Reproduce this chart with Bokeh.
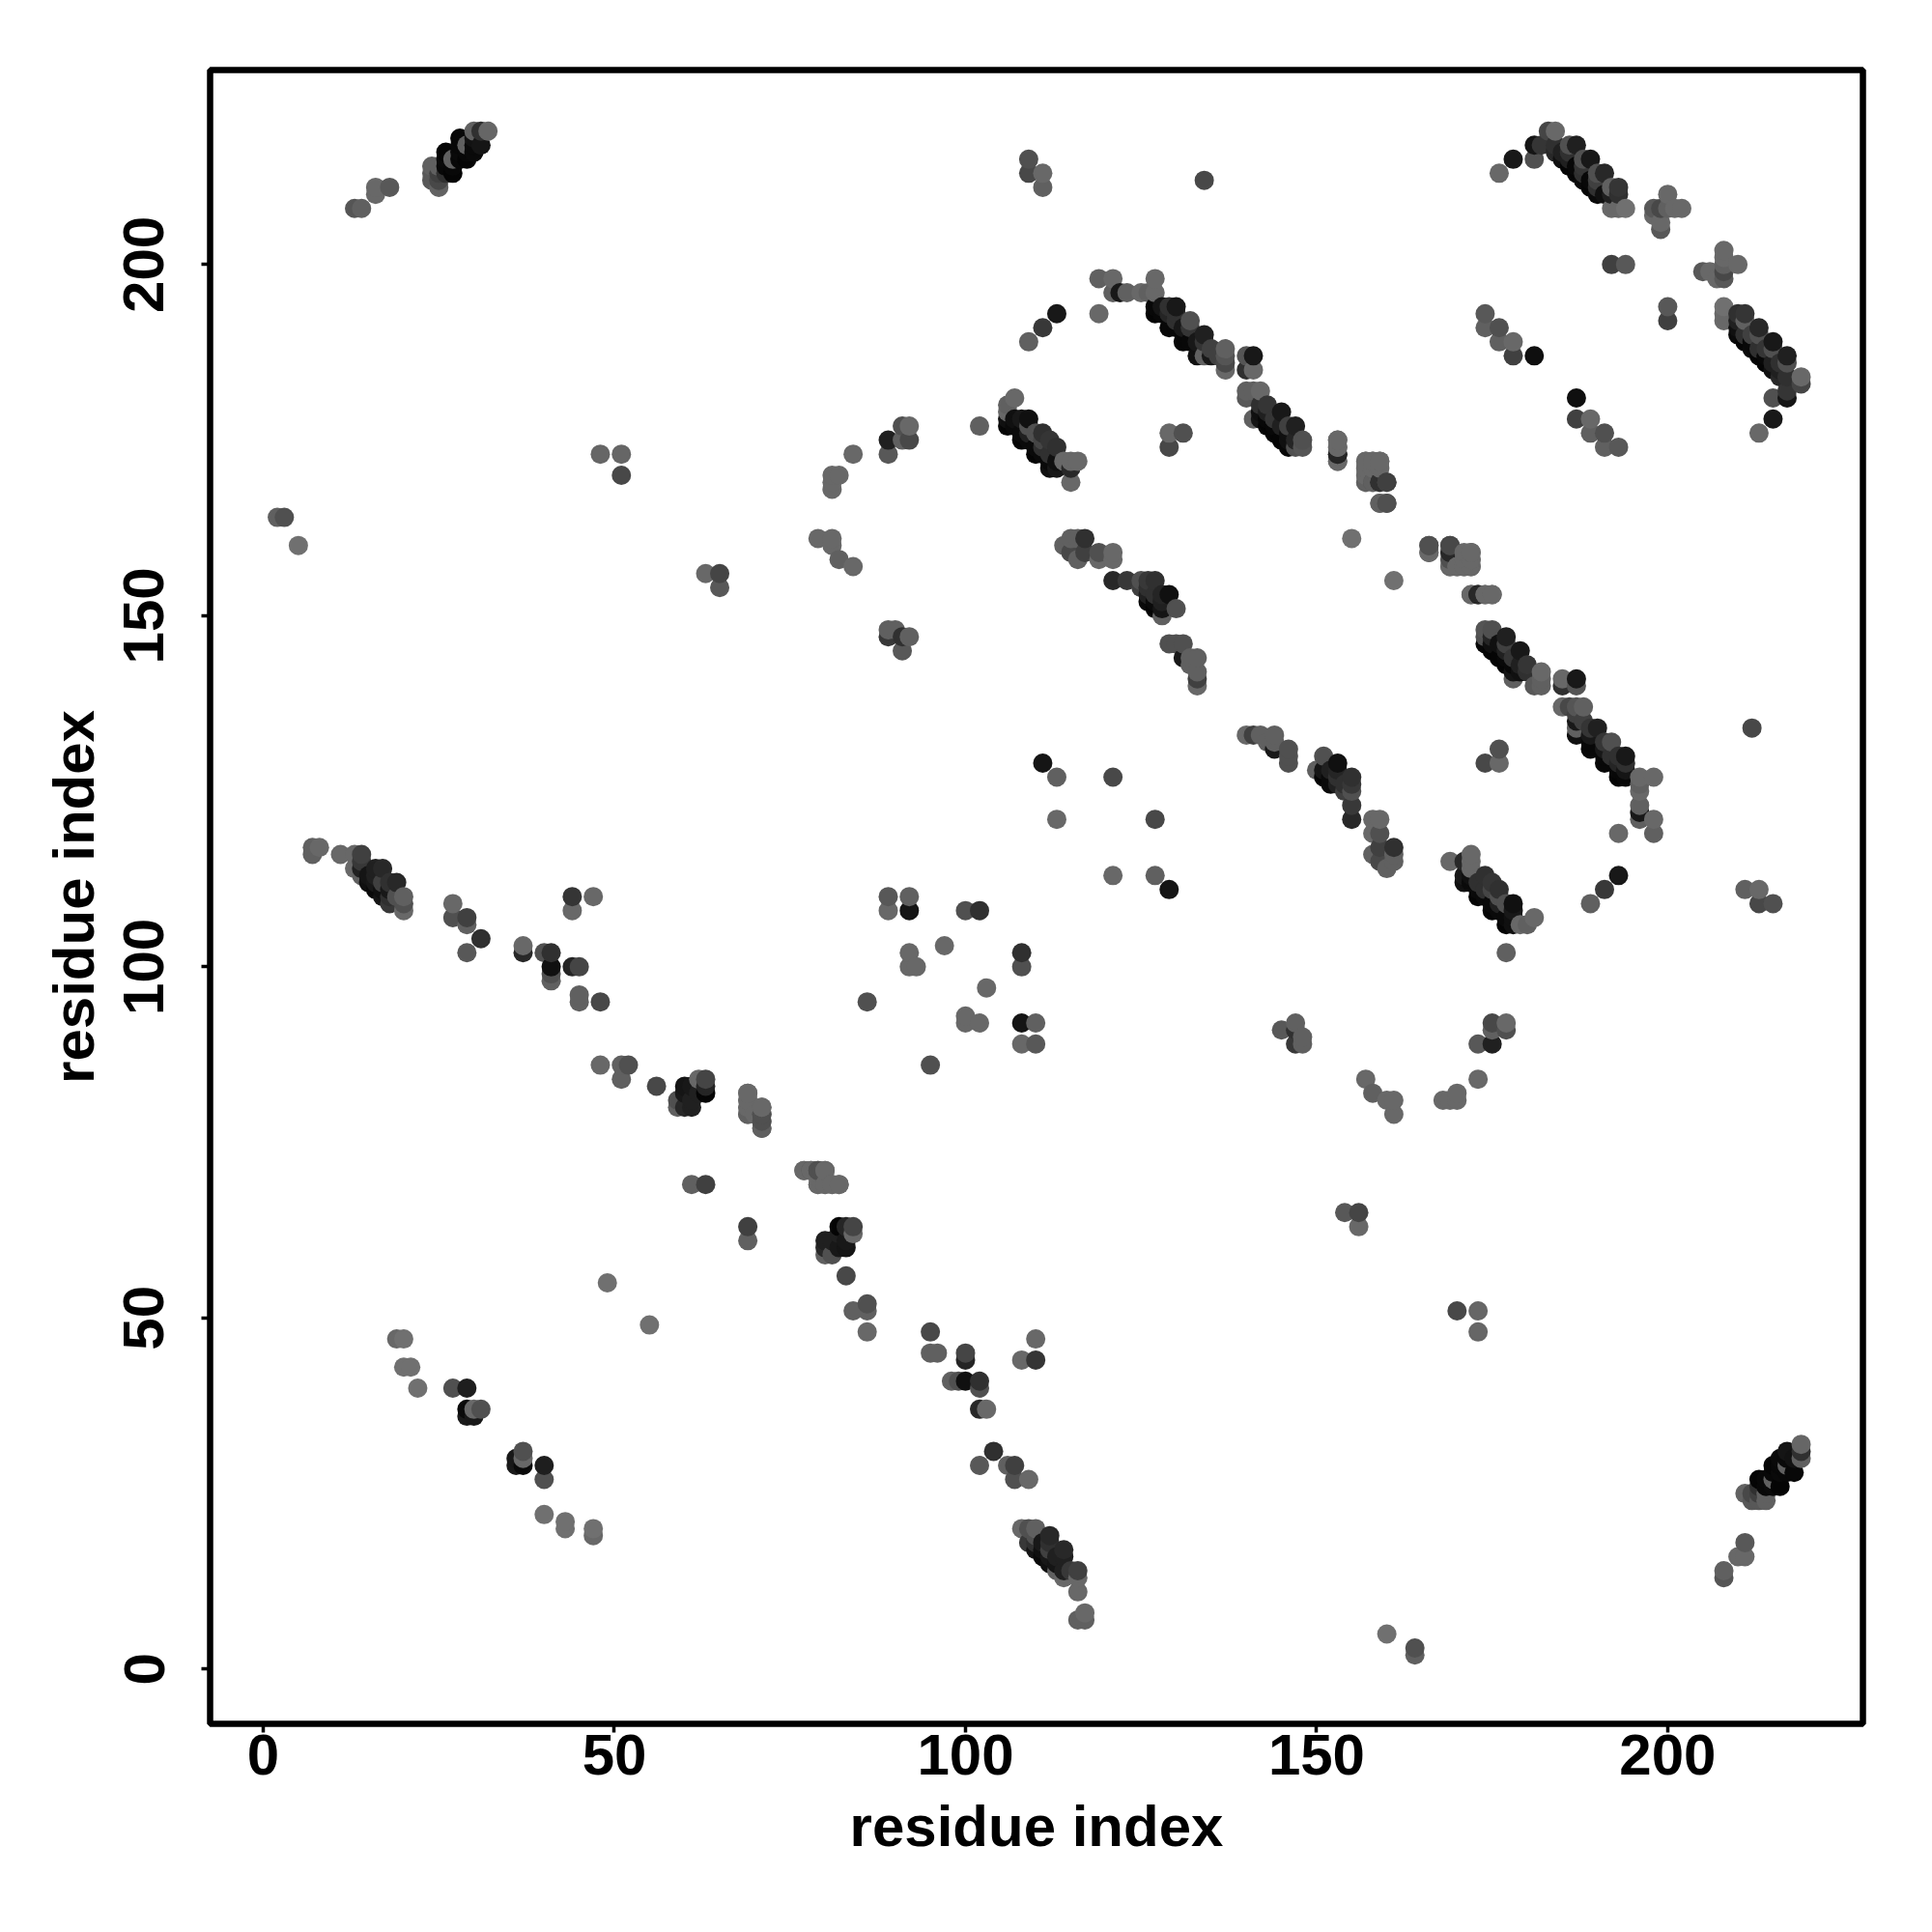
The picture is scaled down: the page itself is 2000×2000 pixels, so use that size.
import numpy as np
from bokeh.plotting import figure
from bokeh.models import FixedTicker, Range1d
from bokeh.embed import file_html
from bokeh.resources import INLINE

# contacts are (residue i, residue j, grey level); the map is symmetric
terminal_helix = [(2,164,0x60),(3,164,0x50),(5,160,0x70),(13,208,0x55),(14,208,0x60),(16,211,0x68),(16,210,0x68),(18,211,0x58),
 (24,214,0x60),(24,213,0x58),(24,212,0x58),(25,211,0x62),(25,212,0x48),(25,213,0x40),(25,214,0x60),(26,213,0x30),(26,214,0x08),(26,215,0x0a),(26,216,0x05),
 (27,213,0x05),(27,214,0x08),(27,215,0x60),(28,215,0x08),(28,216,0x0a),(28,217,0x08),(28,218,0x08),(29,215,0x05),(29,216,0x08),(29,217,0x60),(30,216,0x0a),(30,217,0x0a),(30,218,0x12),(30,219,0x60),(31,217,0x15),(31,219,0x30),(32,219,0x66)]
sparse_left = [(48,173,0x66),(51,173,0x66),(51,170,0x48),(63,156,0x68),(65,156,0x45),(65,154,0x58),(49,55,0x70)]
band_n = [(7,117,0x60),(8,117,0x68),(7,116,0x60),(11,116,0x68),(13,116,0x68),(14,116,0x40),(14,115,0x38),(13,114,0x68),(14,114,0x20),(14,113,0x60),
 (15,113,0x15),(15,112,0x10),(16,114,0x20),(16,113,0x20),(17,114,0x28),(16,112,0x18),(16,111,0x0a),(17,112,0x40),(17,111,0x10),(17,110,0x15),(18,112,0x30),(18,111,0x18),(18,110,0x30),(18,109,0x38),(19,112,0x28),(19,110,0x50),(20,110,0x60),(20,109,0x50),(20,108,0x68),
 (27,109,0x68),(27,107,0x50),(29,107,0x40),(29,106,0x60),(31,104,0x30),(29,102,0x58),
 (37,103,0x68),(37,102,0x28),(40,102,0x50),(41,102,0x30),(41,100,0x10),(41,99,0x50),(41,98,0x60),(44,100,0x25),(45,100,0x45),
 (44,110,0x35),(47,110,0x68),(44,108,0x68),(45,96,0x60),(45,95,0x60),(48,95,0x48),
 (48,86,0x68),(51,86,0x60),(52,86,0x50),(51,84,0x60),(56,83,0x48)]
diag_mid = [(59,81,0x50),(59,80,0x60),(60,83,0x15),(60,82,0x18),(60,80,0x28),(61,83,0x18),(61,81,0x20),(61,80,0x20),(62,84,0x68),(62,82,0x20),(63,84,0x45),(63,83,0x25),(63,82,0x05),
 (69,82,0x68),(69,81,0x68),(69,80,0x68),(69,79,0x68),(70,79,0x68),(71,80,0x68),(71,79,0x50),(71,78,0x68),(71,77,0x68),
 (61,69,0x60),(63,69,0x40),(77,71,0x60),(78,71,0x50),(79,71,0x50),(80,71,0x68),(79,69,0x60),(80,69,0x68),(81,69,0x68),(82,69,0x68)]
low_cluster = [(19,47,0x68),(20,47,0x70),(20,43,0x70),(21,43,0x70),(22,40,0x70),(27,40,0x50),(29,40,0x1e),(29,37,0x0a),(30,37,0x68),(31,37,0x50),(29,36,0x1a),(30,36,0x18)]
mid_scatter = [(79,161,0x68),(81,161,0x68),(81,160,0x68),(82,158,0x60),(84,157,0x68),
 (84,173,0x68),(89,175,0x20),(89,173,0x58),(91,177,0x50),(92,177,0x68),(92,175,0x48),(91,175,0x60),(81,170,0x68),(82,170,0x68),(81,169,0x68),(81,168,0x68),(102,177,0x60),
 (89,148,0x60),(90,148,0x60),(89,147,0x38),(91,147,0x30),(92,147,0x60),(91,145,0x58),
 (111,129,0x15),(113,127,0x60),(121,127,0x48),(113,121,0x68),
 (89,110,0x58),(92,110,0x60),(89,108,0x68),(92,108,0x15),(100,108,0x50),(102,108,0x30),
 (92,102,0x68),(92,100,0x68),(93,100,0x68),(97,103,0x68),(86,95,0x50)]
upper_small = [(109,215,0x50),(109,213,0x48),(111,213,0x68),(111,211,0x60),(134,212,0x48),
 (119,198,0x60),(121,198,0x68),(121,196,0x60),(122,196,0x18),(123,196,0x60),(125,196,0x68),(126,196,0x60),(127,196,0x68),(127,198,0x68),
 (119,193,0x68),(113,193,0x18),(111,191,0x38),(109,189,0x60),(129,176,0x68),(131,176,0x50),(129,174,0x48)]
band_a = [(107,181,0x68),(106,180,0x60),(106,179,0x68),(106,178,0x10),(106,177,0x05),(107,178,0x10),(107,177,0x0a),(108,178,0x18),(108,176,0x0a),(109,178,0x10),(108,175,0x05),(109,177,0x50),(109,176,0x20),(109,175,0x0a),
 (110,176,0x50),(110,174,0x0a),(111,176,0x30),(111,175,0x45),(110,173,0x05),(111,174,0x30),(111,173,0x0a),(112,175,0x35),(112,172,0x0a),(112,171,0x10),(112,173,0x30),(113,171,0x18),(113,172,0x10),(113,174,0x30),(114,172,0x68),(115,171,0x28),(115,172,0x68),(116,172,0x68),(115,169,0x68)]
band_b = [(127,194,0x08),(127,193,0x05),(128,194,0x15),(128,193,0x08),(129,194,0x30),(129,193,0x25),(130,194,0x18),(129,191,0x08),(130,193,0x30),(130,192,0x30),(130,191,0x08),(131,189,0x08),(131,191,0x18),(132,192,0x50),(132,191,0x35),(132,189,0x08),
 (133,189,0x18),(133,187,0x10),(134,190,0x20),(134,189,0x35),(134,187,0x60),(135,187,0x18),(135,188,0x40),(136,187,0x40),(137,188,0x60),(137,187,0x55),(137,186,0x48),(137,185,0x68),
 (140,187,0x55),(141,187,0x18),(140,185,0x30),(141,185,0x68)]
band_c = [(140,182,0x60),(140,181,0x58),(141,182,0x60),(142,182,0x68),(141,178,0x60),(142,180,0x30),(142,179,0x10),(143,180,0x35),(142,178,0x15),(143,179,0x20),(143,178,0x08),(143,177,0x05),(144,178,0x35),(144,177,0x08),(144,176,0x05),(145,179,0x18),(145,177,0x20),(145,175,0x05),
 (146,177,0x40),(146,176,0x10),(146,174,0x08),(147,177,0x20),(147,175,0x25),(146,175,0x10),(148,175,0x50),(147,174,0x50),(148,174,0x55)]
band_d = [(114,160,0x60),(115,161,0x60),(116,161,0x60),(117,161,0x30),(115,159,0x48),(116,158,0x60),(117,159,0x40),(119,159,0x50),(119,158,0x68),(121,159,0x68),(121,158,0x68),
 (121,155,0x28),(123,155,0x38),(125,155,0x50),(126,155,0x38),(127,155,0x30),(125,154,0x40),(126,154,0x30),(126,153,0x20),(127,153,0x30),(126,152,0x0a),(127,152,0x0a),(127,151,0x05),(128,153,0x25),(128,152,0x20),(128,151,0x15),(129,153,0x10),(128,150,0x60),(130,151,0x50),
 (129,146,0x50),(130,146,0x50),(131,146,0x50),(131,144,0x18),(132,144,0x60),(133,144,0x60),(132,143,0x60),(133,142,0x60),(133,141,0x40),(133,140,0x68)]
upper_right = [(153,175,0x68),(153,174,0x68),(153,173,0x28),(153,172,0x68),(157,172,0x68),(158,172,0x68),(159,172,0x68),(157,171,0x68),(157,170,0x68),(157,169,0x68),(158,169,0x50),(159,169,0x28),(160,169,0x48),(159,166,0x68),(160,166,0x50),
 (155,161,0x70),(166,160,0x50),(166,159,0x60),(169,160,0x40),(169,159,0x30),(169,158,0x60),(169,157,0x60),(170,157,0x68),(171,159,0x68),(172,159,0x68),(171,158,0x68),(172,158,0x68),(171,157,0x68),(172,157,0x68),
 (172,153,0x68),(173,153,0x25),(174,153,0x68),(175,153,0x68),
 (174,193,0x58),(174,191,0x60),(176,191,0x50),(176,189,0x60),(178,189,0x68),(178,187,0x40),(181,187,0x0f)]
band_e = [(176,213,0x68),(178,215,0x18),(181,215,0x50),(181,217,0x15),(182,217,0x35),(183,219,0x45),(184,219,0x68),(184,217,0x30),(184,216,0x28),(185,216,0x20),(185,215,0x10),
 (186,217,0x50),(186,216,0x30),(187,217,0x20),(186,215,0x20),(186,214,0x05),(187,214,0x08),(187,213,0x05),(188,215,0x50),(188,214,0x35),(189,215,0x18),(188,212,0x0a),(188,213,0x30),(189,212,0x08),(189,211,0x05),(190,213,0x50),(190,212,0x40),(191,213,0x28),(190,210,0x0a),(190,211,0x30),(191,210,0x10),(192,210,0x20),(192,211,0x60),(193,211,0x35),(193,210,0x30),
 (192,208,0x68),(193,208,0x68),(194,208,0x70),(192,200,0x40),(194,200,0x58),
 (200,210,0x68),(198,208,0x58),(199,208,0x48),(200,208,0x60),(201,208,0x68),(202,208,0x68),(198,207,0x68),(199,206,0x68),(199,205,0x58)]

tick_values = [0, 50, 100, 150, 200]
axis_title = "residue index"

groups = [terminal_helix, sparse_left, band_n, diag_mid, low_cluster, mid_scatter, upper_small, band_a, band_b, band_c, band_d, upper_right, band_e]
rows = [t for g in groups for t in g]
i = np.array([r[0] for r in rows] + [r[1] for r in rows])
j = np.array([r[1] for r in rows] + [r[0] for r in rows])
g = np.array([r[2] for r in rows] * 2)
order = np.lexsort((j, i))
colors = ["#%02x%02x%02x" % (v, v, v) for v in g[order]]

W = H = 1984
p = figure(width=W, height=H, output_backend="svg", toolbar_location=None,
           x_range=Range1d(-7.57, 227.8), y_range=Range1d(-7.8, 227.7),
           min_border_left=217, min_border_right=56, min_border_top=72, min_border_bottom=200,
           background_fill_color="white", border_fill_color="white")
p.grid.visible = False
p.outline_line_color = "black"
p.outline_line_width = 6.5
p.scatter(i[order], j[order], size=20, color=colors, line_color=None, marker="circle")

for ax, title in ((p.xaxis[0], axis_title), (p.yaxis[0], axis_title)):
    ax.ticker = FixedTicker(ticks=tick_values)
    ax.axis_label = title
    ax.axis_line_color = None
    ax.major_tick_line_color = "black"
    ax.major_tick_line_width = 3.5
    ax.major_tick_out = 9
    ax.major_tick_in = 0
    ax.minor_tick_line_color = None
    ax.major_label_text_font = "Liberation Sans"
    ax.major_label_text_font_style = "bold"
    ax.major_label_text_font_size = "60px"
    ax.major_label_text_color = "black"
    ax.axis_label_text_font = "Liberation Sans"
    ax.axis_label_text_font_style = "bold"
    ax.axis_label_text_font_size = "60px"
    ax.axis_label_text_color = "black"
p.xaxis[0].major_label_standoff = 2
p.xaxis[0].axis_label_standoff = 17
p.yaxis[0].major_label_orientation = "vertical"
p.yaxis[0].major_label_standoff = 39
p.yaxis[0].axis_label_standoff = 16

open("out.html", "w").write(file_html(p, INLINE))
